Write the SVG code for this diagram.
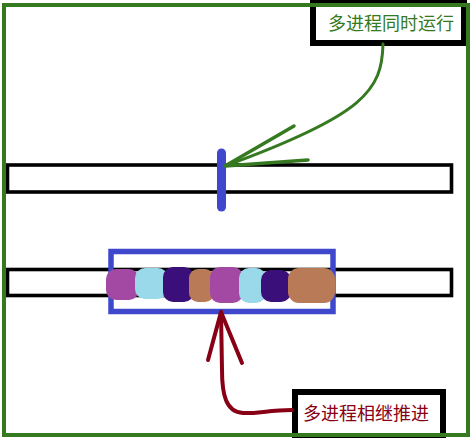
<svg xmlns="http://www.w3.org/2000/svg" width="472" height="438" viewBox="0 0 472 438">
<style>
.bar{fill:#fff;stroke:#000;stroke-width:3.6}
.lbl{fill:#fff;stroke:#000;stroke-width:6}
.t{font-family:"Noto Sans CJK SC","Noto Sans",sans-serif;font-size:18px}
.g{stroke:#357a20;fill:none;stroke-linecap:round}
.r{stroke:#880015;fill:none;stroke-width:4;stroke-linecap:round;stroke-linejoin:round}
.p{fill:#a349a4}.lb{fill:#99d9ea}.dp{fill:#3b0f7a}.br{fill:#b97a57}
</style>
<rect width="472" height="438" fill="#fff"/>
<g id="bars">
<rect class="bar" x="7.5" y="165" width="444" height="27"/>
<rect class="bar" x="7.5" y="269.5" width="444" height="26"/>
</g>
<g id="marker">
<line x1="221.5" y1="153" x2="221.5" y2="207" stroke="#3f48cc" stroke-width="9" stroke-linecap="round"/>
</g>
<g id="window">
<rect x="111" y="251.5" width="222" height="60" fill="none" stroke="#3f48cc" stroke-width="5.5"/>
</g>
<g id="blobs">
<rect class="p" x="106" y="269" width="33" height="31" rx="10"/>
<rect class="lb" x="135" y="268" width="33" height="31" rx="10"/>
<rect class="dp" x="163" y="267" width="31" height="35" rx="10"/>
<rect class="br" x="189" y="269" width="25" height="33" rx="9"/>
<rect class="p" x="210" y="267" width="33" height="36" rx="10"/>
<rect class="lb" x="239" y="268" width="27" height="35" rx="10"/>
<rect class="dp" x="261" y="270" width="30" height="32" rx="10"/>
<rect class="br" x="288" y="268" width="47" height="35" rx="11"/>
</g>
<g id="label-top">
<rect class="lbl" x="313" y="3" width="151" height="40"/>
<text class="t" x="328" y="30" fill="#357a20">多进程同时运行</text>
</g>
<g id="label-bottom">
<rect class="lbl" x="295" y="392" width="148" height="46"/>
<text class="t" x="303" y="420" fill="#880015">多进程相继推进</text>
</g>
<g id="connectors">
<path class="g" stroke-width="3" d="M383,44 C382,90 365,115 225,166"/>
<path class="g" stroke-width="3.5" d="M294,126 L225,166 L308,160"/>
<path class="r" d="M292,410 C270,410 255,414 243,413 C226,412 222,395 222,370 L221,312"/>
<path class="r" d="M208,360 L221,312 L242,363"/>
</g>
<rect id="frame" x="4" y="5" width="464" height="430" fill="none" stroke="#357a20" stroke-width="4"/>
</svg>
